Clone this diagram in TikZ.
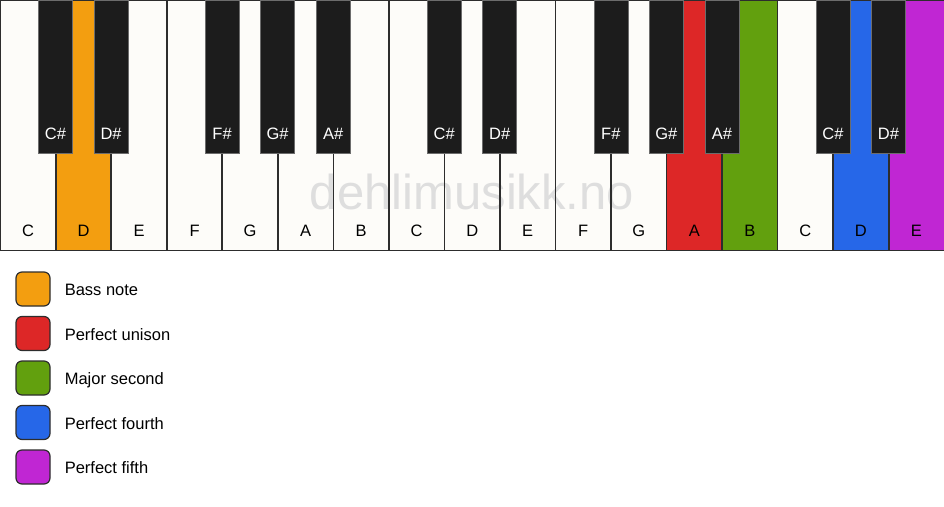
\documentclass[tikz,border=0pt]{standalone}
\usepackage{fontspec}
\setmainfont{Liberation Sans}
\usetikzlibrary{positioning}

\definecolor{keyWhite}{RGB}{253,252,249}
\definecolor{keyBlack}{RGB}{28,28,28}
\definecolor{keyLine}{RGB}{45,45,45}
\definecolor{bassOrange}{RGB}{243,158,16}
\definecolor{unisonRed}{RGB}{221,39,39}
\definecolor{secondGreen}{RGB}{98,160,14}
\definecolor{fourthBlue}{RGB}{38,103,232}
\definecolor{fifthPurple}{RGB}{192,38,211}
\definecolor{markGray}{RGB}{222,222,222}

\begin{document}
\begin{tikzpicture}[
    x=1pt, y=-1pt,
    every node/.style={font=\fontsize{16.5}{19}\selectfont},
    whitekey/.style={rectangle, fill=keyWhite, minimum width=55.53pt, minimum height=250pt, inner sep=0pt, anchor=north west},
    blackkey/.style={rectangle, draw=keyLine!70!white, line width=0.6pt, fill=keyBlack, minimum width=34pt, minimum height=153pt, inner sep=0pt, anchor=north},
    keyline/.style={draw=keyLine, line width=1.3pt},
    whitelabel/.style={text=black},
    blacklabel/.style={text=white},
    watermark/.style={text=markGray, font=\fontsize{49}{55}\selectfont},
    swatch/.style={rectangle, draw=keyLine, line width=1.2pt, rounded corners=6pt, minimum size=34pt, inner sep=0pt},
    legendtext/.style={inner sep=0pt, anchor=base west}
]
\useasboundingbox (0,0) rectangle (944,506);

% White keys
\foreach \name [count=\i from 0] in {C,D,E,F,G,A,B,C,D,E,F,G,A,B,C,D,E} {
    \node[whitekey] (w\i) at (\i*55.53, 0) {};
}
\fill[bassOrange] (w1.north west) rectangle (w1.south east);
\fill[unisonRed] (w12.north west) rectangle (w12.south east);
\fill[secondGreen] (w13.north west) rectangle (w13.south east);
\fill[fourthBlue] (w15.north west) rectangle (w15.south east);
\fill[fifthPurple] (w16.north west) rectangle (w16.south east);

% Watermark
\node[watermark] (mark) at (472,192) {dehlimusikk.no};

\foreach \name [count=\i from 0] in {C,D,E,F,G,A,B,C,D,E,F,G,A,B,C,D,E} {
    \draw[keyline] (w\i.north west) rectangle (w\i.south east);
    \node[whitelabel] at ([yshift=20pt]w\i.south) {\name};
}

% Black keys
\foreach \pos/\name in {1/C\#,2/D\#,4/F\#,5/G\#,6/A\#,8/C\#,9/D\#,11/F\#,12/G\#,13/A\#,15/C\#,16/D\#} {
    \node[blackkey] (b\pos) at (\pos*55.53, 0) {};
    \node[blacklabel] at ([yshift=20pt]b\pos.south) {\name};
}

% Legend
\node[swatch, fill=bassOrange] (bass) at (33,289) {};
\node[swatch, fill=unisonRed, below=9.3pt of bass] (unison) {};
\node[swatch, fill=secondGreen, below=9.3pt of unison] (second) {};
\node[swatch, fill=fourthBlue, below=9.3pt of second] (fourth) {};
\node[swatch, fill=fifthPurple, below=9.3pt of fourth] (fifth) {};

\foreach \sw/\legend in {bass/Bass note, unison/Perfect unison, second/Major second, fourth/Perfect fourth, fifth/Perfect fifth} {
    \node[legendtext] (\sw-text) at ([xshift=14pt, yshift=-6.5pt]\sw.east) {\legend};
}

\end{tikzpicture}
\end{document}
